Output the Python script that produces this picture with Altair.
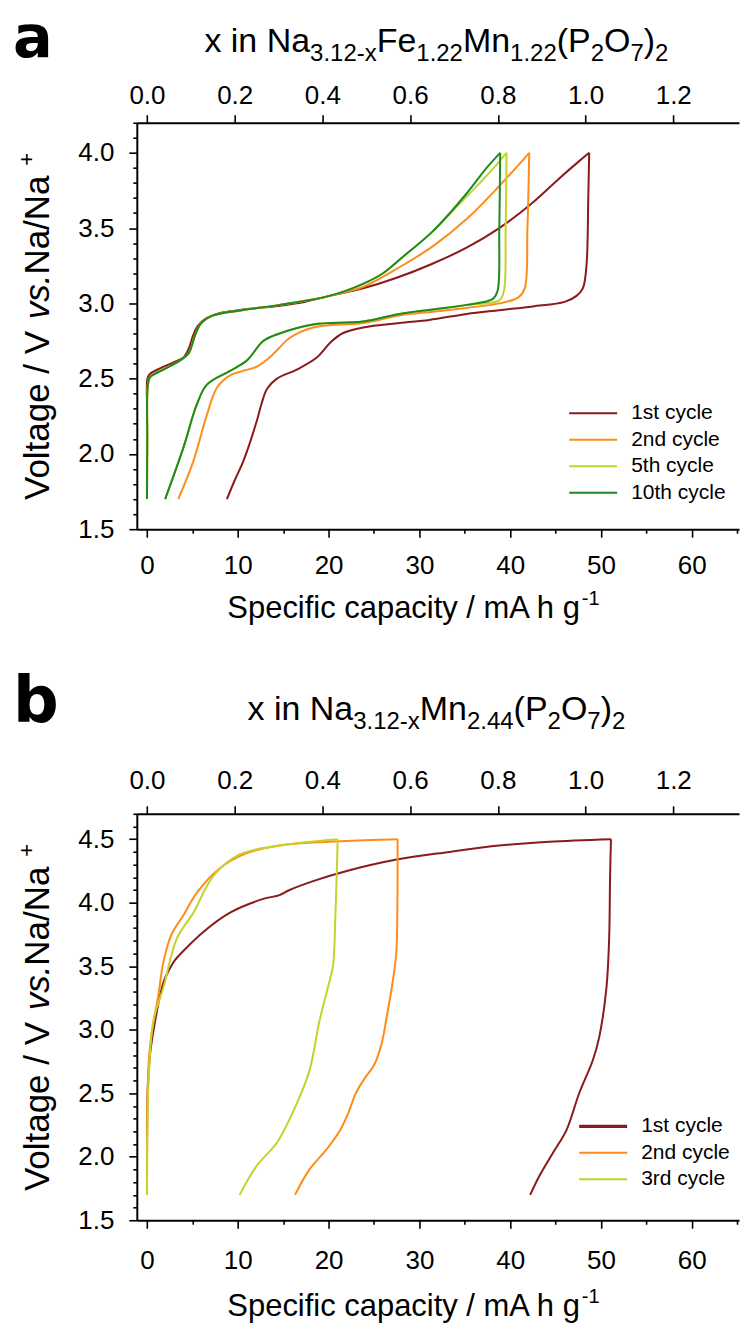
import altair as alt
import pandas as pd

# ---------------- data ----------------
A_LABELS = ["1st cycle", "2nd cycle", "5th cycle", "10th cycle"]
B_LABELS = ["1st cycle", "2nd cycle", "3rd cycle"]

# panel a : Na3.12-xFe1.22Mn1.22(P2O7)2  (C = charge, D = discharge)
A1C_CAP = [0.0, 0.05, 0.3, 1.5, 3.0, 4.0, 4.6, 5.1, 5.6, 6.5, 7.7, 9.5, 11.5, 14.0, 16.5, 20.1, 23.8, 27.5, 31.3, 35.2, 38.8, 42.5, 45.4, 47.5, 48.7]
A1C_V = [2.36, 2.50, 2.53, 2.57, 2.61, 2.64, 2.70, 2.79, 2.85, 2.90, 2.93, 2.95, 2.965, 2.98, 3.00, 3.05, 3.10, 3.17, 3.26, 3.37, 3.50, 3.67, 3.83, 3.94, 4.00]
A1D_CAP = [48.7, 48.6, 48.4, 48.0, 47.3, 46.0, 42.5, 38.8, 35.2, 31.1, 27.8, 23.8, 21.5, 20.2, 18.7, 16.5, 14.3, 13.2, 12.6, 12.1, 10.6, 9.7, 8.8]
A1D_V = [4.00, 3.70, 3.25, 3.10, 3.05, 3.01, 2.98, 2.955, 2.93, 2.89, 2.87, 2.84, 2.80, 2.74, 2.64, 2.56, 2.50, 2.43, 2.33, 2.22, 1.95, 1.83, 1.70]

A2C_CAP = [0.0, 0.03, 0.08, 0.3, 1.8, 3.6, 4.6, 5.3, 6.0, 7.3, 9.9, 14.6, 20.1, 23.8, 27.8, 31.5, 35.2, 38.8, 42.1]
A2C_V = [1.70, 2.10, 2.45, 2.51, 2.56, 2.62, 2.67, 2.79, 2.87, 2.92, 2.95, 2.99, 3.05, 3.11, 3.24, 3.38, 3.56, 3.78, 4.00]
A2D_CAP = [42.1, 41.9, 41.6, 40.9, 38.8, 35.2, 31.5, 27.8, 23.8, 18.3, 15.7, 14.5, 13.5, 12.1, 10.5, 9.1, 7.7, 6.6, 5.1, 3.45]
A2D_V = [4.00, 3.50, 3.10, 3.04, 3.00, 2.97, 2.945, 2.92, 2.87, 2.84, 2.77, 2.70, 2.64, 2.58, 2.55, 2.52, 2.44, 2.26, 1.95, 1.70]

A5C_CAP = [0.0, 0.03, 0.08, 0.34, 1.8, 3.6, 4.6, 5.3, 6.0, 7.3, 9.9, 14.6, 20.1, 23.8, 26.0, 28.6, 31.3, 35.2, 37.6, 39.6]
A5C_V = [1.70, 2.10, 2.45, 2.51, 2.56, 2.62, 2.67, 2.79, 2.87, 2.92, 2.95, 2.99, 3.05, 3.13, 3.20, 3.33, 3.47, 3.71, 3.86, 4.00]
A5D_CAP = [39.6, 39.5, 39.3, 38.8, 35.2, 31.5, 27.8, 23.8, 18.3, 14.6, 12.8, 11.0, 9.1, 6.6, 5.5, 4.0, 2.0]
A5D_V = [4.00, 3.50, 3.08, 3.02, 2.99, 2.96, 2.93, 2.88, 2.86, 2.80, 2.75, 2.62, 2.55, 2.46, 2.33, 2.04, 1.70]

A10C_CAP = [0.0, 0.03, 0.08, 0.34, 1.8, 3.6, 4.6, 5.3, 6.0, 7.3, 9.9, 14.6, 20.1, 23.8, 26.0, 28.0, 31.5, 35.2, 37.4, 38.9]
A10C_V = [1.70, 2.10, 2.45, 2.51, 2.56, 2.62, 2.67, 2.79, 2.87, 2.92, 2.95, 2.99, 3.05, 3.13, 3.20, 3.30, 3.48, 3.73, 3.90, 4.00]
A10D_CAP = [38.9, 38.8, 38.6, 38.1, 35.2, 31.5, 27.8, 23.8, 18.3, 14.6, 12.8, 11.0, 9.1, 6.6, 5.5, 4.0, 2.0]
A10D_V = [4.00, 3.50, 3.08, 3.03, 2.99, 2.96, 2.93, 2.88, 2.86, 2.80, 2.75, 2.62, 2.55, 2.46, 2.33, 2.04, 1.70]

# panel b : Na3.12-xMn2.44(P2O7)2
B1C_CAP = [0.0, 0.1, 0.34, 0.9, 1.44, 1.9, 2.5, 3.1, 4.0, 6.2, 9.1, 12.8, 14.6, 15.7, 18.3, 22.0, 27.5, 33.3, 38.8, 44.3, 51.1]
B1C_V = [2.16, 2.55, 2.81, 3.07, 3.27, 3.39, 3.48, 3.55, 3.62, 3.77, 3.92, 4.03, 4.06, 4.10, 4.17, 4.25, 4.34, 4.40, 4.45, 4.48, 4.50]
B1D_CAP = [51.1, 51.0, 50.9, 50.6, 49.8, 49.1, 47.6, 46.2, 44.7, 43.3, 42.2]
B1D_V = [4.50, 4.20, 3.72, 3.33, 2.94, 2.76, 2.50, 2.21, 2.03, 1.86, 1.70]

B2C_CAP = [0.0, 0.02, 0.1, 0.3, 0.7, 1.25, 1.8, 2.7, 4.0, 5.5, 8.0, 11.0, 14.6, 20.1, 27.6]
B2C_V = [1.70, 2.20, 2.60, 2.85, 3.05, 3.27, 3.53, 3.75, 3.90, 4.08, 4.27, 4.39, 4.45, 4.48, 4.50]
B2D_CAP = [27.6, 27.58, 27.45, 27.0, 26.4, 25.8, 25.0, 24.0, 23.0, 22.2, 21.2, 19.8, 17.9, 16.3]
B2D_V = [4.50, 4.00, 3.60, 3.35, 3.10, 2.88, 2.72, 2.62, 2.50, 2.35, 2.20, 2.06, 1.90, 1.70]

B3C_CAP = [0.0, 0.05, 0.15, 0.7, 1.8, 3.3, 5.1, 7.3, 10.2, 14.6, 21.0]
B3C_V = [1.70, 2.20, 2.55, 3.07, 3.33, 3.72, 3.92, 4.21, 4.38, 4.45, 4.50]
B3D_CAP = [21.0, 20.9, 20.75, 20.5, 20.1, 19.0, 17.9, 16.5, 14.3, 12.1, 10.2]
B3D_V = [4.50, 4.23, 3.90, 3.51, 3.38, 3.07, 2.68, 2.42, 2.11, 1.93, 1.70]

# axis ticks / labels
X_TICKS = [0, 5, 10, 15, 20, 25, 30, 35, 40, 45, 50, 55, 60, 65]
TOP_TICKS = [0.0, 0.2, 0.4, 0.6, 0.8, 1.0, 1.2]
Y_TICKS_A = [1.5, 1.6, 1.7, 1.8, 1.9, 2.0, 2.1, 2.2, 2.3, 2.4, 2.5, 2.6, 2.7, 2.8, 2.9, 3.0,
             3.1, 3.2, 3.3, 3.4, 3.5, 3.6, 3.7, 3.8, 3.9, 4.0, 4.1, 4.2]
Y_TICKS_B = [1.5, 1.6, 1.7, 1.8, 1.9, 2.0, 2.1, 2.2, 2.3, 2.4, 2.5, 2.6, 2.7, 2.8, 2.9, 3.0,
             3.1, 3.2, 3.3, 3.4, 3.5, 3.6, 3.7, 3.8, 3.9, 4.0, 4.1, 4.2, 4.3, 4.4, 4.5, 4.6, 4.7]
CAP_PER_X = 48.3          # mA h g-1 per unit x (top axis)

# ---------------- style ----------------
C_RED, C_ORANGE, C_YG, C_GREEN = "#8b1a1a", "#ff8c1a", "#c5d22c", "#1f8b1f"
A_COLORS = [C_RED, C_ORANGE, C_YG, C_GREEN]
B_COLORS = [C_RED, C_ORANGE, C_YG]
FONT = "Liberation Sans"
W, H = 603, 407
XDOM = [-1.12, 65.2]
YDOM_A = [1.5, 4.2]
YDOM_B = [1.5, 4.7]
TICK_FS = 26

AW = {' ': 278, '(': 333, ')': 333, '+': 584, '-': 333, '.': 278, '/': 278,
      'A': 667, 'F': 611, 'M': 833, 'N': 722, 'O': 778, 'P': 667, 'S': 667, 'V': 667,
      'a': 556, 'c': 500, 'e': 556, 'f': 278, 'g': 556, 'h': 556, 'i': 222, 'l': 222,
      'm': 833, 'n': 556, 'o': 556, 'p': 556, 's': 500, 't': 278, 'v': 500, 'x': 500, 'y': 500}


def tw(s, size):
    return sum(AW.get(c, 556) for c in s) / 1000.0 * size


ONE = pd.DataFrame({"k": [0]})


def txt(s, x, y, size, font=FONT, angle=0, style="normal", weight="normal",
        align="left", baseline="alphabetic", color="black"):
    return alt.Chart(ONE).mark_text(
        text=s, font=font, fontSize=size, angle=angle, fontStyle=style,
        fontWeight=weight, align=align, baseline=baseline, color=color
    ).encode(x=alt.value(x), y=alt.value(y))


def seg_row(segs, cx, base_y):
    total = sum(tw(s, size) for s, size, _ in segs)
    x = cx - total / 2
    out = []
    for s, size, shift in segs:
        out.append(txt(s, x, base_y + shift, size))
        x += tw(s, size)
    return out


def seg_col(segs, cy, base_x):
    total = sum(tw(s, size) for s, size, _, _ in segs)
    y = cy + total / 2
    out = []
    for s, size, shift, style in segs:
        out.append(txt(s, base_x + shift, y, size, angle=270, style=style))
        y -= tw(s, size)
    return out


def major(step):
    return f"abs(datum.value / {step} - round(datum.value / {step})) < 0.001"


AX_COMMON = dict(grid=False, title=None, domainColor="black", domainWidth=2, tickColor="black",
                 tickWidth=1.6, labelColor="black", labelFont=FONT, labelFontSize=TICK_FS,
                 labelFlush=False, labelOverlap=False, labelBound=False)


def x_axis(pad):
    return alt.Axis(orient="bottom", values=X_TICKS,
                    labelExpr=f"{major(10)} ? format(datum.value, 'd') : ''",
                    tickSize={"condition": {"test": major(10), "value": 8}, "value": 4},
                    labelPadding=pad, **AX_COMMON)


def y_axis(ticks):
    return alt.Axis(orient="left", values=ticks,
                    labelExpr=f"{major(0.5)} ? format(datum.value, '.1f') : ''",
                    tickSize={"condition": {"test": major(0.5), "value": 8}, "value": 4},
                    labelPadding=15, **AX_COMMON)


def top_axis(pad):
    return alt.Axis(orient="top", values=TOP_TICKS, format=".1f", tickSize=8,
                    labelPadding=pad, **AX_COMMON)


def cycle_layer(ccap, cv, dcap, dv, color, ydom, xax, yax):
    n1, n2 = len(ccap), len(dcap)
    df = pd.DataFrame({
        "cap": ccap + dcap, "V": cv + dv,
        "part": ["charge"] * n1 + ["discharge"] * n2,
        "i": list(range(n1)) + list(range(n2)),
    })
    return alt.Chart(df).mark_line(color=color, strokeWidth=2, interpolate="catmull-rom").encode(
        x=alt.X("cap:Q", scale=alt.Scale(domain=XDOM, nice=False, zero=False), axis=xax),
        y=alt.Y("V:Q", scale=alt.Scale(domain=ydom, nice=False, zero=False), axis=yax),
        detail="part:N",
        order=alt.Order("i:Q"),
    )


def top_layer(ydom, pad, yax):
    df = pd.DataFrame({"xf": [XDOM[0] / CAP_PER_X, XDOM[1] / CAP_PER_X], "V": ydom})
    return alt.Chart(df).mark_point(opacity=0, size=1).encode(
        x=alt.X("xf:Q", scale=alt.Scale(domain=[XDOM[0] / CAP_PER_X, XDOM[1] / CAP_PER_X],
                                        nice=False, zero=False), axis=top_axis(pad)),
        y=alt.Y("V:Q", scale=alt.Scale(domain=ydom, nice=False, zero=False), axis=yax),
    )


def anchor(top, bottom):
    return alt.Chart(ONE).mark_rule(strokeOpacity=0, strokeWidth=0.01).encode(
        x=alt.value(-137), x2=alt.value(-137), y=alt.value(top), y2=alt.value(bottom))


def legend(labels, colors, x0, y0, widths):
    out = []
    for k, (lab, col) in enumerate(zip(labels, colors)):
        yy = y0 + 26.5 * k
        out.append(alt.Chart(ONE).mark_rule(color=col, strokeWidth=widths[k]).encode(
            x=alt.value(x0), x2=alt.value(x0 + 48), y=alt.value(yy), y2=alt.value(yy)))
        out.append(txt(lab, x0 + 62, yy, 21, baseline="middle"))
    return out


def x_title(base_y):
    return seg_row([("Specific capacity / mA h g", 31, 0), ("-1", 20, -13)], 277, base_y)


def y_title():
    return seg_col([("Voltage / V ", 35, 0, "normal"), ("vs.", 35, 0, "italic"),
                    (" Na/Na", 35, 0, "normal"), ("+", 22, -15, "normal")], 204, -88)


# ---------------- panel a ----------------
XA_A, YA_A = x_axis(15), y_axis(Y_TICKS_A)
lines_a = alt.layer(
    cycle_layer(A1C_CAP, A1C_V, A1D_CAP, A1D_V, C_RED, YDOM_A, XA_A, YA_A),
    cycle_layer(A2C_CAP, A2C_V, A2D_CAP, A2D_V, C_ORANGE, YDOM_A, XA_A, YA_A),
    cycle_layer(A5C_CAP, A5C_V, A5D_CAP, A5D_V, C_YG, YDOM_A, XA_A, YA_A),
    cycle_layer(A10C_CAP, A10C_V, A10D_CAP, A10D_V, C_GREEN, YDOM_A, XA_A, YA_A),
)
title_a = seg_row([("x in Na", 34, 0), ("3.12-x", 24, 9), ("Fe", 34, 0), ("1.22", 24, 9),
                   ("Mn", 34, 0), ("1.22", 24, 9), ("(P", 34, 0), ("2", 24, 9),
                   ("O", 34, 0), ("7", 24, 9), (")", 34, 0), ("2", 24, 9)], 300, -71)
panel_a = alt.layer(
    lines_a, top_layer(YDOM_A, 6, YA_A),
    *title_a, *x_title(H + 89), *y_title(),
    txt("a", -124, -66, 59, font="DejaVu Sans", weight="bold"),
    *legend(A_LABELS, A_COLORS, 433, 291, [2, 2, 2, 2]),
    anchor(-122, 542),
).resolve_scale(x="independent").properties(width=W, height=H)

# ---------------- panel b ----------------
XA_B, YA_B = x_axis(19), y_axis(Y_TICKS_B)
lines_b = alt.layer(
    cycle_layer(B1C_CAP, B1C_V, B1D_CAP, B1D_V, C_RED, YDOM_B, XA_B, YA_B),
    cycle_layer(B2C_CAP, B2C_V, B2D_CAP, B2D_V, C_ORANGE, YDOM_B, XA_B, YA_B),
    cycle_layer(B3C_CAP, B3C_V, B3D_CAP, B3D_V, C_YG, YDOM_B, XA_B, YA_B),
)
title_b = seg_row([("x in Na", 34, 0), ("3.12-x", 24, 9), ("Mn", 34, 0), ("2.44", 24, 9),
                   ("(P", 34, 0), ("2", 24, 9), ("O", 34, 0), ("7", 24, 9),
                   (")", 34, 0), ("2", 24, 9)], 300, -94)
panel_b = alt.layer(
    lines_b, top_layer(YDOM_B, 12, YA_B),
    *title_b, *x_title(H + 96), *y_title(),
    txt("b", -124, -92, 64, font="DejaVu Sans", weight="bold"),
    *legend(B_LABELS, B_COLORS, 443, 313, [3.5, 2, 2]),
    anchor(-150, 517),
).resolve_scale(x="independent").properties(width=W, height=H)

chart = alt.vconcat(panel_a, panel_b, spacing=0).properties(padding=0).configure_view(strokeWidth=0)
chart.save("out.html", embed_options={"renderer": "svg", "actions": False})
